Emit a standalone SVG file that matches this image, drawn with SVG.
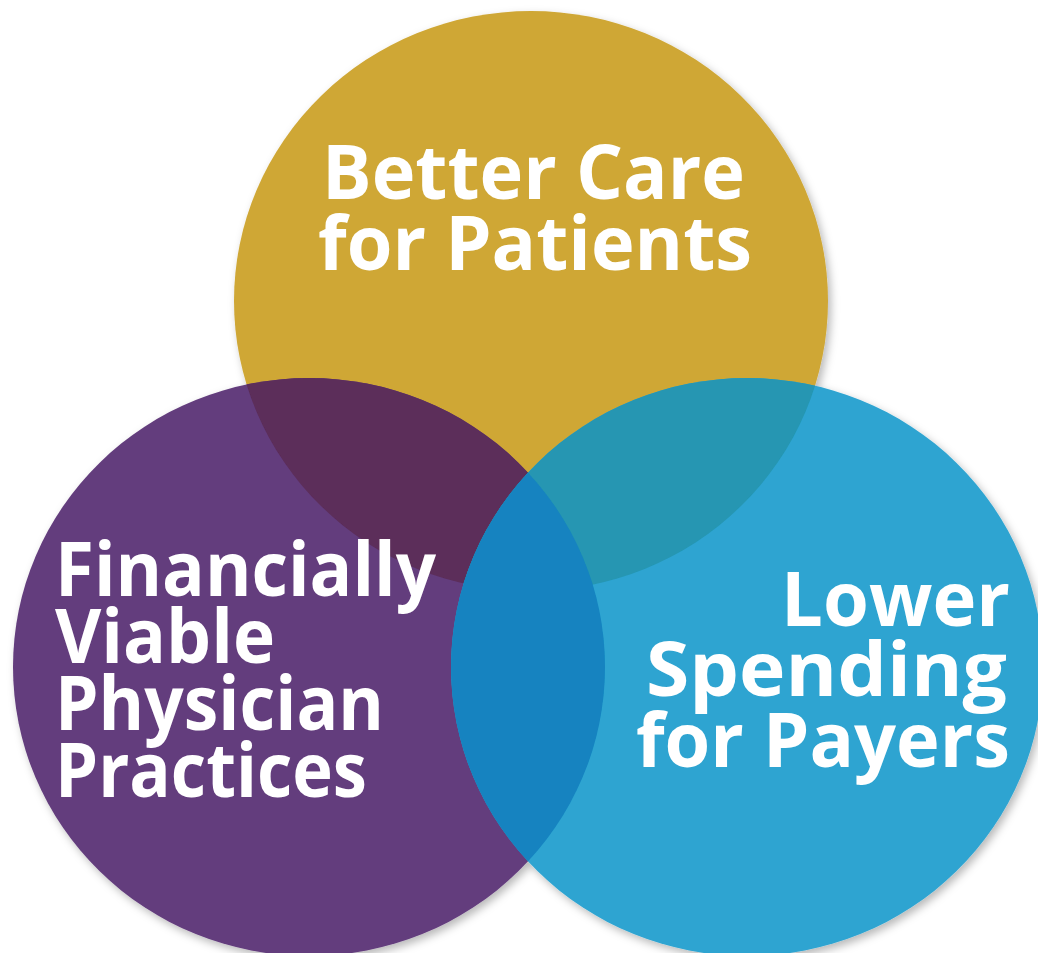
<svg xmlns="http://www.w3.org/2000/svg" width="1038" height="953" viewBox="0 0 1038 953">
  <style>
    .lbl { font-family: "Open Sans", "Liberation Sans", sans-serif; font-weight: 700; font-size: 75px; fill: #ffffff; }
  </style>
  <defs>
    <filter id="shadow" x="-10%" y="-10%" width="120%" height="120%">
      <feDropShadow dx="3" dy="4" stdDeviation="4" flood-color="#000000" flood-opacity="0.28"/>
    </filter>
    <clipPath id="clipGold"><ellipse cx="531" cy="301" rx="297" ry="290"/></clipPath>
    <clipPath id="clipPurple"><ellipse cx="309" cy="667" rx="296" ry="289"/></clipPath>
  </defs>
  <rect width="1038" height="953" fill="#ffffff"/>
  <g id="circles" filter="url(#shadow)">
    <g id="gold">
      <ellipse cx="531" cy="301" rx="297" ry="290" fill="#CFA736"/>
    </g>
    <g id="purple">
      <ellipse cx="309" cy="667" rx="296" ry="289" fill="#633D7D"/>
      <ellipse cx="309" cy="667" rx="296" ry="289" fill="#5B2D5A" clip-path="url(#clipGold)"/>
    </g>
    <g id="blue">
      <ellipse cx="747" cy="667" rx="296" ry="289" fill="#2EA4D1"/>
      <ellipse cx="747" cy="667" rx="296" ry="289" fill="#2596B2" clip-path="url(#clipGold)"/>
      <ellipse cx="747" cy="667" rx="296" ry="289" fill="#1383C0" clip-path="url(#clipPurple)"/>
    </g>
  </g>
  <g id="connectors"></g>
  <g id="label-top">
    <text class="lbl" x="322" y="199" textLength="423" lengthAdjust="spacingAndGlyphs">Better Care</text>
    <text class="lbl" x="318" y="270" textLength="434" lengthAdjust="spacingAndGlyphs">for Patients</text>
  </g>
  <g id="label-left">
    <text class="lbl" x="55" y="596" textLength="381" lengthAdjust="spacingAndGlyphs">Financially</text>
    <text class="lbl" x="55" y="663" textLength="220" lengthAdjust="spacingAndGlyphs">Viable</text>
    <text class="lbl" x="55" y="730" textLength="329" lengthAdjust="spacingAndGlyphs">Physician</text>
    <text class="lbl" x="55" y="797" textLength="312" lengthAdjust="spacingAndGlyphs">Practices</text>
  </g>
  <g id="label-right">
    <text class="lbl" x="781" y="626" textLength="229" lengthAdjust="spacingAndGlyphs">Lower</text>
    <text class="lbl" x="646" y="696" textLength="361" lengthAdjust="spacingAndGlyphs">Spending</text>
    <text class="lbl" x="636" y="767" textLength="374" lengthAdjust="spacingAndGlyphs">for Payers</text>
  </g>
</svg>
